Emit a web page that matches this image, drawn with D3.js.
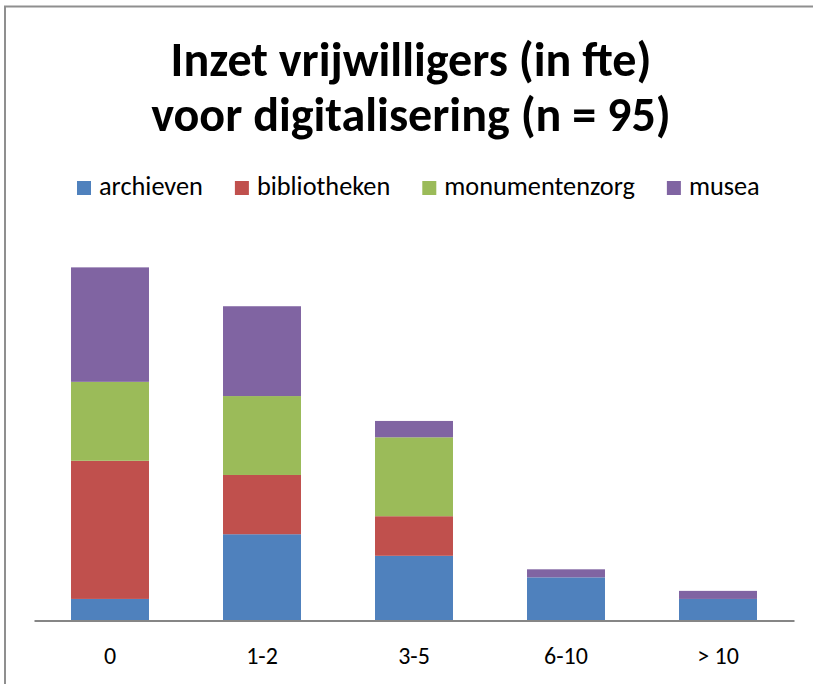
<!DOCTYPE html>
<html>
<head>
<meta charset="utf-8">
<script src="https://cdn.jsdelivr.net/npm/d3@7"></script>
<style>
  html, body { margin: 0; padding: 0; background: #fff; }
  svg { display: block; }
  text { font-family: Carlito, Calibri, Lato, sans-serif; fill: #000; }
</style>
</head>
<body>
<svg id="chart" width="813" height="684"></svg>
<script>
// Share (%) of organisations per sector, by volunteer fte used for digitisation
const categories = ["0", "1-2", "3-5", "6-10", "> 10"];
const seriesNames = ["archieven", "bibliotheken", "monumentenzorg", "musea"];
const archieven      = [9.1, 36.4, 27.3, 18.2, 9.1];
const bibliotheken   = [58.3, 25.0, 16.7, 0, 0];
const monumentenzorg = [33.3, 33.3, 33.3, 0, 0];
const musea          = [48.3, 37.9, 6.9, 3.4, 3.4];
const titleLines = ["Inzet vrijwilligers (in fte)", "voor digitalisering (n = 95)"];

const seriesValues = [archieven, bibliotheken, monumentenzorg, musea];
const colors = ["#4F81BD", "#C0504D", "#9BBB59", "#8064A2"];

const svg = d3.select("#chart");
const W = 813, H = 684;

// chart frame (left and top edges visible)
svg.append("path")
  .attr("d", `M5,${H} L5,6.5 L${W + 5},6.5`)
  .attr("fill", "none")
  .attr("stroke", "#8f8f8f")
  .attr("stroke-width", 2);

// helper: scale a text element's font size so it spans a given width
function fitWidth(sel, target) {
  const fs = parseFloat(sel.attr("font-size"));
  const w = sel.node().getComputedTextLength();
  sel.attr("font-size", (fs * target / w).toFixed(2));
  return fs * target / w;
}

// title
const cx = 411;
const t1 = svg.append("text").attr("x", cx).attr("y", 76)
  .attr("text-anchor", "middle").attr("font-size", 48).attr("font-weight", "bold")
  .text(titleLines[0]);
const titleSize = fitWidth(t1, 481);
svg.append("text").attr("x", cx).attr("y", 131)
  .attr("text-anchor", "middle").attr("font-size", titleSize).attr("font-weight", "bold")
  .text(titleLines[1]);

// scales
const x = d3.scaleBand()
  .domain(categories)
  .range([34, 794])
  .paddingInner(0.487)
  .paddingOuter(0.2435);

const y = d3.scaleLinear()
  .domain([0, 160])
  .range([620.5, 241.3]);

// stacked data
const rows = categories.map((c, i) => {
  const r = { cat: c };
  seriesNames.forEach((s, j) => { r[s] = seriesValues[j][i]; });
  return r;
});
const stacked = d3.stack().keys(seriesNames)(rows);

svg.append("g")
  .selectAll("g")
  .data(stacked)
  .join("g")
  .attr("fill", (d, i) => colors[i])
  .selectAll("rect")
  .data(d => d.filter(p => p[1] - p[0] > 0))
  .join("rect")
  .attr("x", d => x(d.data.cat))
  .attr("width", x.bandwidth())
  .attr("y", d => y(d[1]))
  .attr("height", d => y(d[0]) - y(d[1]));

// category axis
const axis = svg.append("g")
  .attr("transform", `translate(0,${y(0)})`)
  .call(d3.axisBottom(x).tickSize(0).tickSizeOuter(0));
axis.select(".domain").attr("stroke", "#868686").attr("stroke-width", 2);
axis.selectAll(".tick text")
  .attr("y", 43).attr("dy", null)
  .attr("font-size", 24)
  .attr("font-family", "Carlito, Calibri, Lato, sans-serif")
  .attr("fill", "#000");

// legend
const legend = svg.append("g");
const items = legend.selectAll("g").data(seriesNames).join("g");
items.append("rect").attr("width", 14).attr("height", 14).attr("y", 181)
  .attr("fill", (d, i) => colors[i]);
const labels = items.append("text").attr("y", 195).attr("font-size", 24).text(d => d);

// match the total legend text span
const textTarget = 683 - 4 * 22 - 3 * 32;
let sum = 0;
labels.each(function () { sum += this.getComputedTextLength(); });
const legendSize = 24 * textTarget / sum;
labels.attr("font-size", legendSize);

let cursor = 77;
items.each(function () {
  const g = d3.select(this);
  g.select("rect").attr("x", cursor);
  const tx = g.select("text").attr("x", cursor + 22);
  cursor += 22 + tx.node().getComputedTextLength() + 32;
});
</script>
</body>
</html>
